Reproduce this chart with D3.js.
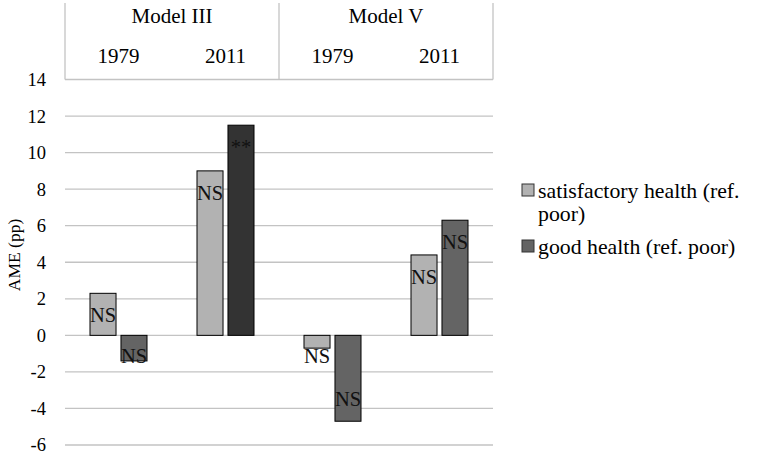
<!DOCTYPE html>
<html>
<head>
<meta charset="utf-8">
<script src="https://cdn.jsdelivr.net/npm/d3@7"></script>
<style>
  body { margin: 0; background: #fff; }
</style>
</head>
<body>
<div id="chart"></div>
<script>
// Chart data.
const models = ["Model III", "Model V"];
const years = ["1979", "2011"];
const series = ["satisfactory health (ref. poor)", "good health (ref. poor)"];
const satisfactory = [2.3, 9.0, -0.7, 4.4];
const good = [-1.4, 11.5, -4.7, 6.3];
const satisfactoryLabels = ["NS", "NS", "NS", "NS"];
const goodLabels = ["NS", "**", "NS", "NS"];
const yTicks = [-6, -4, -2, 0, 2, 4, 6, 8, 10, 12, 14];

// Chart size and drawing area.
const width = 757;
const height = 461;
const plot = { left: 65, right: 493, top: 79.5, bottom: 445 };
const serif = "'Liberation Serif', 'Times New Roman', serif";

const fills = ["#b2b2b2", "#646464"];
const strongFill = "#333333";

const svg = d3.select("#chart")
    .append("svg")
    .attr("width", width)
    .attr("height", height)
    .style("font-family", serif);

// One group per model/year pair.
const groups = [];
models.forEach(m => years.forEach(y => groups.push(m + " " + y)));

const rows = groups.map((g, i) => ({
    group: g,
    bars: [
        { s: 0, value: satisfactory[i], label: satisfactoryLabels[i] },
        { s: 1, value: good[i], label: goodLabels[i] }
    ]
}));

const x0 = d3.scaleBand()
    .domain(groups)
    .range([plot.left, plot.right])
    .padding(0);

const x1 = d3.scaleBand()
    .domain([0, 1])
    .range([25, x0.bandwidth() - 25])
    .paddingInner(0.16);

const y = d3.scaleLinear()
    .domain([-6, 14])
    .range([plot.bottom, plot.top]);

// Small helper so every label gets the same serif face.
function label(sel, size) {
    return sel.attr("font-family", serif)
        .attr("font-size", size)
        .attr("fill", "#000");
}

// Gridlines
svg.append("g")
    .selectAll("line")
    .data(yTicks)
    .enter()
    .append("line")
    .attr("x1", plot.left)
    .attr("x2", plot.right)
    .attr("y1", d => y(d))
    .attr("y2", d => y(d))
    .attr("stroke", "#c3c3c3")
    .attr("stroke-width", 1.3);

// Y tick labels
svg.append("g")
    .selectAll("text")
    .data(yTicks)
    .enter()
    .append("text")
    .attr("x", 46)
    .attr("y", d => y(d))
    .attr("dy", "0.35em")
    .attr("text-anchor", "end")
    .call(label, 18.5)
    .text(d => d);

// Y axis title
svg.append("text")
    .attr("transform", "translate(20, 255) rotate(-90)")
    .attr("text-anchor", "middle")
    .call(label, 17.5)
    .text("AME (pp)");

// Header table above the plot.
const header = svg.append("g");
const modelEdges = [plot.left, x0(groups[2]), plot.right];
header.selectAll("line")
    .data(modelEdges)
    .enter()
    .append("line")
    .attr("x1", d => d)
    .attr("x2", d => d)
    .attr("y1", 3)
    .attr("y2", y(14))
    .attr("stroke", "#c3c3c3")
    .attr("stroke-width", 1.3);

header.selectAll("text.model")
    .data(models)
    .enter()
    .append("text")
    .attr("class", "model")
    .attr("x", (d, i) => (modelEdges[i] + modelEdges[i + 1]) / 2)
    .attr("y", 23)
    .attr("text-anchor", "middle")
    .call(label, 21)
    .text(d => d);

header.selectAll("text.year")
    .data(groups)
    .enter()
    .append("text")
    .attr("class", "year")
    .attr("x", d => x0(d) + x0.bandwidth() / 2)
    .attr("y", 63)
    .attr("text-anchor", "middle")
    .call(label, 21)
    .text((d, i) => years[i % years.length]);

// Bars
const groupSel = svg.append("g")
    .selectAll("g")
    .data(rows)
    .enter()
    .append("g")
    .attr("transform", d => `translate(${x0(d.group)}, 0)`);

groupSel.selectAll("rect")
    .data(d => d.bars)
    .enter()
    .append("rect")
    .attr("x", d => x1(d.s))
    .attr("y", d => Math.min(y(d.value), y(0)))
    .attr("width", x1.bandwidth())
    .attr("height", d => Math.abs(y(d.value) - y(0)))
    .attr("fill", d => d.label === "**" ? strongFill : fills[d.s])
    .attr("stroke", "#000")
    .attr("stroke-width", 1);

// Labels sit inside the bar end, but never closer than 20px to zero.
groupSel.selectAll("text")
    .data(d => d.bars)
    .enter()
    .append("text")
    .attr("x", d => x1(d.s) + x1.bandwidth() / 2)
    .attr("y", d => {
        const end = y(d.value);
        const zero = y(0);
        return d.value >= 0
            ? Math.min(end + 22, zero - 20)
            : Math.max(end - 22, zero + 20);
    })
    .attr("dy", "0.35em")
    .attr("text-anchor", "middle")
    .call(label, 20.5)
    .attr("fill", "#111")
    .text(d => d.label);

// Legend (the first entry wraps onto two lines, as in the source)
const legend = svg.append("g").attr("transform", "translate(522, 0)");
const legendLines = [["satisfactory health (ref.", "poor)"], [series[1]]];
const legendBase = [198, 254];

legendLines.forEach((lines, i) => {
    legend.append("rect")
        .attr("x", 0)
        .attr("y", legendBase[i] - 14)
        .attr("width", 12)
        .attr("height", 12)
        .attr("fill", fills[i])
        .attr("stroke", "#333")
        .attr("stroke-width", 1);
    lines.forEach((t, j) => {
        legend.append("text")
            .attr("x", 16)
            .attr("y", legendBase[i] + j * 23)
            .call(label, 21.8)
            .text(t);
    });
});
</script>
</body>
</html>
